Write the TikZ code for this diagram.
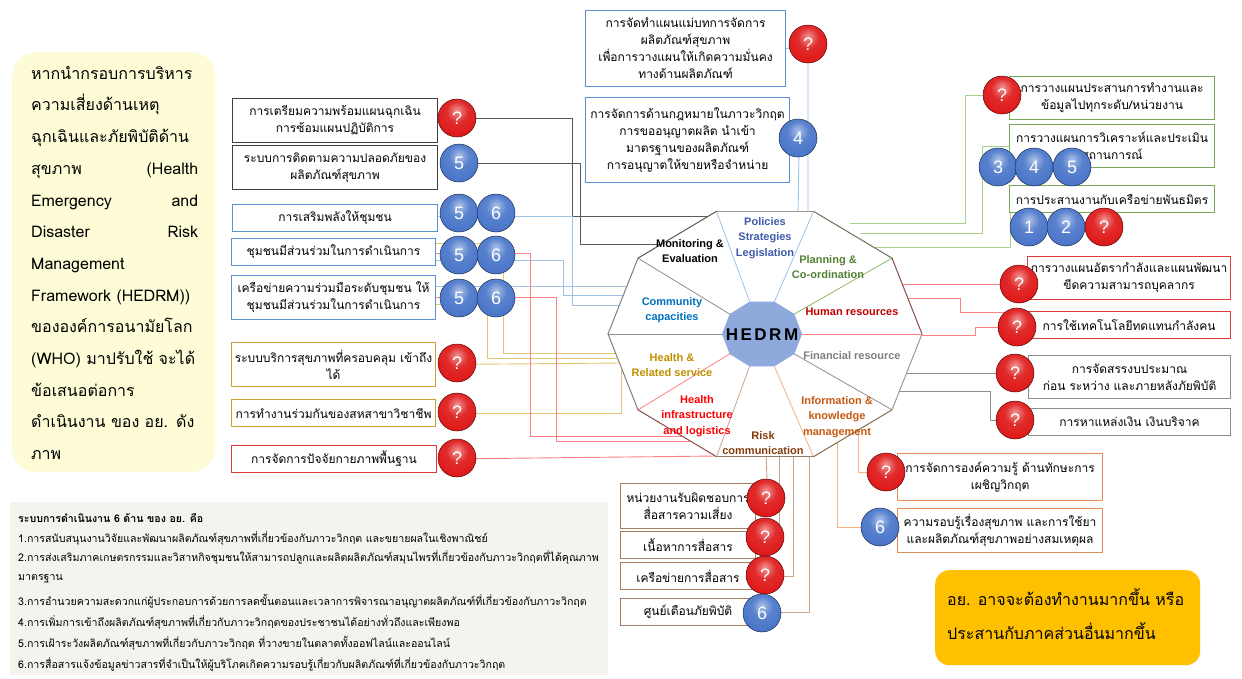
\documentclass[tikz,border=0pt]{standalone}
\usepackage{fontspec}
\setmainfont{Loma}[Script=Thai]
\newfontfamily\arialf{Liberation Sans}
\usetikzlibrary{calc}
\definecolor{cblue}{HTML}{5B8FD0}
\definecolor{cblk}{HTML}{3F3F3F}
\definecolor{cgold}{HTML}{C9A233}
\definecolor{cred}{HTML}{E03A3A}
\definecolor{cgreen}{HTML}{76A855}
\definecolor{cgray}{HTML}{8C8C8C}
\definecolor{corange}{HTML}{E08A56}
\definecolor{cbrown}{HTML}{A87D5E}
\definecolor{lblue}{HTML}{9DC3E6}
\definecolor{lgold}{HTML}{E3C66F}
\definecolor{lred}{HTML}{FF8080}
\definecolor{lgreen}{HTML}{A9D18E}
\definecolor{lgray}{HTML}{8F8F8F}
\definecolor{lorange}{HTML}{F4B183}
\definecolor{lbrown}{HTML}{C9A58C}
\definecolor{lblk}{HTML}{595959}
\definecolor{hedrm}{HTML}{8EA9DB}
\definecolor{ybg}{HTML}{FEFCD6}
\definecolor{gbg}{HTML}{F1F5EE}
\definecolor{obg}{HTML}{FFC000}
\definecolor{tpol}{HTML}{3F5BA9}
\definecolor{tmon}{HTML}{000000}
\definecolor{tpla}{HTML}{548235}
\definecolor{thum}{HTML}{C00000}
\definecolor{tfin}{HTML}{7F7F7F}
\definecolor{tinf}{HTML}{C55A11}
\definecolor{trisk}{HTML}{843C0C}
\definecolor{thi}{HTML}{FF0000}
\definecolor{thr}{HTML}{BF9000}
\definecolor{tcom}{HTML}{0070C0}
\definecolor{qmain}{RGB}{222,20,20}
\definecolor{nmain}{RGB}{70,115,200}
\definecolor{eA}{HTML}{8B4A4A}
\definecolor{eB}{HTML}{6F6F5A}
\definecolor{eC}{HTML}{9A9A9A}
\definecolor{eD}{HTML}{595959}
\definecolor{eE}{HTML}{7F7F7F}
\definecolor{eF}{HTML}{8E7C6E}
\definecolor{eG}{HTML}{8B6A4A}
\definecolor{sG}{HTML}{8FBC6F}
\pgfdeclareradialshading{qshade}{\pgfpoint{0bp}{10bp}}{color(0bp)=(qmain!45!white); color(14bp)=(qmain!90!white); color(34bp)=(qmain); color(46bp)=(qmain!75!black); color(52bp)=(qmain!45!black); color(80bp)=(qmain!45!black)}
\pgfdeclareradialshading{nshade}{\pgfpoint{0bp}{10bp}}{color(0bp)=(nmain!45!white); color(14bp)=(nmain!90!white); color(34bp)=(nmain); color(46bp)=(nmain!75!black); color(52bp)=(nmain!45!black); color(80bp)=(nmain!45!black)}
\begin{document}
\begin{tikzpicture}[x=1pt,y=-1pt,
  bx/.style={draw, line width=1.1pt, fill=white, align=center, inner sep=1pt, anchor=north west, font=\fontsize{12}{17}\selectfont},
  badge/.style={circle, inner sep=0pt, minimum size=38pt, text=white, font=\arialf\fontsize{18}{18}\selectfont},
  qb/.style={badge, shading=qshade, draw=qmain!40!black, line width=0.5pt},
  nb/.style={badge, shading=nshade, draw=nmain!40!black, line width=0.5pt},
  ln/.style={line width=0.9pt},
  sec/.style={align=center, inner sep=0pt, font=\arialf\bfseries\fontsize{11}{15.5}\selectfont},
  listline/.style={anchor=west, inner sep=0pt, font=\fontsize{10.6}{12}\selectfont}
]
\useasboundingbox (0,0) rectangle (1242,678);
\fill[white] (0,0) rectangle (1242,678);

% ---------- panels ----------
\node[fill=ybg, rounded corners=24pt, minimum width=203pt, minimum height=420pt, anchor=north west, inner sep=0pt] (ybox) at (12,52) {};
\node[anchor=north west, text width=167pt, align=left, inner sep=0pt, font=\fontsize{16}{31.7}\selectfont] (ytext) at (31,66) {%
\mbox{หากนำกรอบการบริหาร}\\
\mbox{ความเสี่ยงด้านเหตุ}\\
\mbox{ฉุกเฉินและภัยพิบัติด้าน}\\
สุขภาพ \hfill (Health\\
Emergency \hfill and\\
Disaster \hfill Risk\\
\mbox{Management}\\
\mbox{Framework (HEDRM))}\\
\mbox{ขององค์การอนามัยโลก}\\
\mbox{(WHO) มาปรับใช้ จะได้}\\
\mbox{ข้อเสนอต่อการ}\\
\mbox{ดำเนินงาน ของ อย. ดัง}\\
\mbox{ภาพ}};

\node[fill=gbg, minimum width=598pt, minimum height=173pt, anchor=north west, inner sep=0pt] (gpanel) at (10,502) {};
\node[listline, font=\bfseries\fontsize{10.6}{12}\selectfont] (l0) at (18,518) {ระบบการดำเนินงาน 6 ด้าน ของ อย. คือ};
\node[listline] (l1) at (18,538) {1.การสนับสนุนงานวิจัยและพัฒนาผลิตภัณฑ์สุขภาพที่เกี่ยวข้องกับภาวะวิกฤต และขยายผลในเชิงพาณิชย์};
\node[listline] (l2) at (18,557) {2.การส่งเสริมภาคเกษตรกรรมและวิสาหกิจชุมชนให้สามารถปลูกและผลิตผลิตภัณฑ์สมุนไพรที่เกี่ยวข้องกับภาวะวิกฤตที่ได้คุณภาพ};
\node[listline] (l2b) at (18,579) {มาตรฐาน};
\node[listline] (l3) at (18,601) {3.การอำนวยความสะดวกแก่ผู้ประกอบการด้วยการลดขั้นตอนและเวลาการพิจารณาอนุญาตผลิตภัณฑ์ที่เกี่ยวข้องกับภาวะวิกฤต};
\node[listline] (l4) at (18,622) {4.การเพิ่มการเข้าถึงผลิตภัณฑ์สุขภาพที่เกี่ยวกับภาวะวิกฤตของประชาชนได้อย่างทั่วถึงและเพียงพอ};
\node[listline] (l5) at (18,643) {5.การเฝ้าระวังผลิตภัณฑ์สุขภาพที่เกี่ยวกับภาวะวิกฤต ที่วางขายในตลาดทั้งออฟไลน์และออนไลน์};
\node[listline] (l6) at (18,664) {6.การสื่อสารแจ้งข้อมูลข่าวสารที่จำเป็นให้ผู้บริโภคเกิดความรอบรู้เกี่ยวกับผลิตภัณฑ์ที่เกี่ยวข้องกับภาวะวิกฤต};

\node[fill=obg, rounded corners=14pt, minimum width=265pt, minimum height=95pt, anchor=north west, inner sep=0pt] (obox) at (935,570) {};
\node[anchor=north west, align=left, inner sep=0pt, font=\fontsize{16}{34}\selectfont] (otext) at (947,588) {อย. อาจจะต้องทำงานมากขึ้น หรือ\\ประสานกับภาคส่วนอื่นมากขึ้น};

% ---------- decagon coordinates ----------
\foreach \k in {0,...,9}{
  \coordinate (o\k) at ({765+157*cos(36*\k)},{334-129*sin(36*\k)});
  \coordinate (i\k) at ({762+40*cos(36*\k)},{334-34*sin(36*\k)});
}
% connector ends (just inside the decagon rim)
\coordinate (me1) at (735,216);
\coordinate (me2) at (680,244);
\coordinate (cc1) at (640,305);
\coordinate (cc2) at (640,295);
\coordinate (cc3) at (645,286);
\coordinate (hr1) at (630,353);
\coordinate (hr2) at (630,358);
\coordinate (hr3) at (621,363);
\coordinate (hi1) at (690,436);
\coordinate (hi2) at (700,441);
\coordinate (hi3) at (716,456);
\coordinate (pl1) at (808,222);
\coordinate (pl2) at (798,222);
\coordinate (pc1) at (850,223);
\coordinate (pc2) at (860,233);
\coordinate (pc3) at (865,247);
\coordinate (phr1) at (895,284);
\coordinate (phr2) at (900,298);
\coordinate (phr3) at (915,335);
\coordinate (fin1) at (898,373);
\coordinate (fin2) at (890,391);
\coordinate (ik1) at (858,425);
\coordinate (ik2) at (837,438);
\coordinate (rc1) at (766,450);
\coordinate (rc2) at (779,450);
\coordinate (rc3) at (793,450);
\coordinate (rc4) at (809,450);

% ---------- boxes ----------
\node[bx, draw=cblk, minimum width=205pt, minimum height=44pt] (b1) at (232,98) {การเตรียมความพร้อมแผนฉุกเฉิน\\การซ้อมแผนปฏิบัติการ};
\node[bx, draw=cblk, minimum width=205pt, minimum height=44pt] (b2) at (232,145) {ระบบการติดตามความปลอดภัยของ\\ผลิตภัณฑ์สุขภาพ};
\node[bx, draw=cblue, minimum width=205pt, minimum height=27pt] (b3) at (232,204) {การเสริมพลังให้ชุมชน};
\node[bx, draw=cblue, minimum width=204pt, minimum height=27pt] (b4) at (231,238) {ชุมชนมีส่วนร่วมในการดำเนินการ};
\node[bx, draw=cblue, minimum width=204pt, minimum height=44pt] (b5) at (231,275) {เครือข่ายความร่วมมือระดับชุมชน ให้\\ชุมชนมีส่วนร่วมในการดำเนินการ};
\node[bx, draw=cgold, minimum width=204pt, minimum height=44pt] (b6) at (231,342) {ระบบบริการสุขภาพที่ครอบคลุม เข้าถึง\\ได้};
\node[bx, draw=cgold, minimum width=204pt, minimum height=27pt] (b7) at (231,399) {การทำงานร่วมกันของสหสาขาวิชาชีพ};
\node[bx, draw=cred, minimum width=205pt, minimum height=27pt] (b8) at (231,445) {การจัดการปัจจัยกายภาพพื้นฐาน};
\node[bx, draw=cblue, minimum width=200pt, minimum height=76pt] (b9) at (585,10) {การจัดทำแผนแม่บทการจัดการ\\ผลิตภัณฑ์สุขภาพ\\เพื่อการวางแผนให้เกิดความมั่นคง\\ทางด้านผลิตภัณฑ์};
\node[bx, draw=cblue, minimum width=204pt, minimum height=85pt] (b10) at (585,97) {การจัดการด้านกฎหมายในภาวะวิกฤต\\การขออนุญาตผลิต นำเข้า\\มาตรฐานของผลิตภัณฑ์\\การอนุญาตให้ขายหรือจำหน่าย};
\node[bx, draw=cgreen, minimum width=205pt, minimum height=43pt] (b11) at (1009,76) {การวางแผนประสานการทำงานและ\\ข้อมูลไปทุกระดับ/หน่วยงาน};
\node[bx, draw=cgreen, minimum width=205pt, minimum height=43pt] (b12) at (1009,124) {การวางแผนการวิเคราะห์และประเมิน\\สถานการณ์};
\node[bx, draw=cgreen, minimum width=205pt, minimum height=27pt] (b13) at (1009,185) {การประสานงานกับเครือข่ายพันธมิตร};
\node[bx, draw=cred, minimum width=203pt, minimum height=43pt] (b14) at (1027,256) {การวางแผนอัตรากำลังและแผนพัฒนา\\ขีดความสามารถบุคลากร};
\node[bx, draw=cred, minimum width=203pt, minimum height=27pt] (b15) at (1027,311) {การใช้เทคโนโลยีทดแทนกำลังคน};
\node[bx, draw=cgray, minimum width=202pt, minimum height=43pt] (b16) at (1028,355) {การจัดสรรงบประมาณ\\ก่อน ระหว่าง และภายหลังภัยพิบัติ};
\node[bx, draw=cgray, minimum width=202pt, minimum height=27pt] (b17) at (1028,408) {การหาแหล่งเงิน เงินบริจาค};
\node[bx, draw=corange, minimum width=205pt, minimum height=47pt] (b18) at (897,453) {การจัดการองค์ความรู้ ด้านทักษะการ\\เผชิญวิกฤต};
\node[bx, draw=corange, minimum width=205pt, minimum height=44pt] (b19) at (897,508) {ความรอบรู้เรื่องสุขภาพ และการใช้ยา\\และผลิตภัณฑ์สุขภาพอย่างสมเหตุผล};
\node[bx, draw=cbrown, minimum width=135pt, minimum height=45pt] (b20) at (620,483) {หน่วยงานรับผิดชอบการ\\สื่อสารความเสี่ยง};
\node[bx, draw=cbrown, minimum width=135pt, minimum height=27pt] (b21) at (620,531) {เนื้อหาการสื่อสาร};
\node[bx, draw=cbrown, minimum width=135pt, minimum height=27pt] (b22) at (620,562) {เครือข่ายการสื่อสาร};
\node[bx, draw=cbrown, minimum width=135pt, minimum height=27pt] (b23) at (620,598) {ศูนย์เตือนภัยพิบัติ};

% badge centres used as connector starts
\path (457,118) coordinate (q1c) (459,163) coordinate (n2c);

% ---------- connectors ----------
% Monitoring & Evaluation (gray)
\draw[ln, lblk] (q1c) -| (572,216) -- (me1);
\draw[ln, lblk] (n2c) -| (580,244) -- (me2);
% Community capacities (blue)
\draw[ln, lblue] ([yshift=-12pt]b3.north east) -| (572,305) -- (cc1);
\draw[ln, lblue] ([yshift=-22pt]b4.north east) -| (563,295) -- (cc2);
\draw[ln, lblue] ([yshift=-11pt]b5.north east) -- (cc3);
% Health & related service (gold)
\draw[ln, lgold] ([yshift=-5pt]b4.north east) -| (503,353) -- (hr1);
\draw[ln, lgold] ([yshift=-29pt]b5.north east) -| (487,358) -- (hr2);
\draw[ln, lgold] ([xshift=2pt]b6.east) -- (hr3);
\draw[ln, lgold] ([xshift=2pt]b7.east) -| (hr3);
% Health infrastructure (red)
\draw[ln, lred] ([yshift=-15pt]b4.north east) -| (530,436) -- (hi1);
\draw[ln, lred] ([yshift=-22pt]b5.north east) -| (556,441) -- (hi2);
\draw[ln, lred] ([xshift=2pt]b8.east) -- (hi3);
% Policies (blue, top)
\draw[ln, lblue] (b9.east) -- (808,44) -- (pl1);
\draw[ln, lblue] ([xshift=9pt,yshift=-41pt]b10.north east) -- (pl2);
% Planning & coordination (green)
\draw[ln, lgreen] ([xshift=-7pt,yshift=-19pt]b11.north west) -| (965,223) -- (pc1);
\draw[ln, lgreen] (b12.west) -| (982,233) -- (pc2);
\draw[ln, lgreen] ([xshift=1pt]b13.south west) |- (pc3);
% Human resources (red)
\draw[ln, lred] ([xshift=-8pt,yshift=-28pt]b14.north west) -- (phr1);
\draw[ln, lred] ([yshift=-1pt]b15.north west) -| (960,298) -- (phr2);
\draw[ln, lred] ([xshift=-10pt,yshift=-16pt]b15.north west) -| (975,335) -- (phr3);
% Financial resource (gray)
\draw[ln, lgray] ([xshift=-13pt,yshift=-18pt]b16.north west) -- (fin1);
\draw[ln, lgray] ([xshift=-13pt,yshift=-12pt]b17.north west) -| (990,391) -- (fin2);
% Information & knowledge (orange)
\draw[ln, lorange] (ik1) |- ([yshift=-19pt]b18.north west);
\draw[ln, lorange] (ik2) |- ([yshift=-19pt]b19.north west);
% Risk communication (brown)
\draw[ln, lbrown] (rc1) -- ([xshift=11pt]b20.north east);
\draw[ln, lbrown] (rc2) |- ([xshift=10pt]b21.east);
\draw[ln, lbrown] (rc3) |- ([xshift=10pt]b22.east);
\draw[ln, lbrown] (rc4) |- ([xshift=7pt]b23.east);

% ---------- decagon ----------
\fill[white] (o0) -- (o1) -- (o2) -- (o3) -- (o4) -- (o5) -- (o6) -- (o7) -- (o8) -- (o9) -- cycle;
\foreach \k/\c in {0/lred,1/sG,2/lblue,3/lblue,4/lgray,5/lgray,6/lred,7/lbrown,8/lorange,9/lgray}{
  \draw[line width=0.8pt, \c] (i\k) -- (o\k);
}
\foreach \k/\c in {0/eA,1/eB,2/eC,3/eD,4/eE,5/eE,6/eA,7/eF,8/eG,9/eC}{
  \pgfmathtruncatemacro\kn{mod(\k+1,10)}
  \draw[line width=1pt, \c, line cap=round] (o\k) -- (o\kn);
}
\fill[hedrm] (i0) -- (i1) -- (i2) -- (i3) -- (i4) -- (i5) -- (i6) -- (i7) -- (i8) -- (i9) -- cycle;
\node[inner sep=0pt, font=\arialf\bfseries\fontsize{17}{17}\selectfont] (hedrm) at (762,335) {H\hspace{2.5pt}E\hspace{2.5pt}D\hspace{2.5pt}R\hspace{2.5pt}M};

% sector labels
\node[sec, text=tpol] (spol) at (765,238) {Policies\\Strategies\\Legislation};
\node[sec, text=tmon] (smon) at (690,251) {Monitoring \&\\Evaluation};
\node[sec, text=tpla] (spla) at (828,267) {Planning \&\\Co-ordination};
\node[sec, text=thum] (shum) at (852,312) {Human resources};
\node[sec, text=tfin] (sfin) at (852,356) {Financial resource};
\node[sec, text=tinf] (sinf) at (837,417) {Information \&\\knowledge\\management};
\node[sec, text=trisk] (srisk) at (763,443) {Risk\\communication};
\node[sec, text=thi] (shi) at (697,416) {Health\\infrastructure\\and logistics};
\node[sec, text=thr] (shr) at (672,365) {Health \&\\Related service};
\node[sec, text=tcom] (scom) at (672,310) {Community\\capacities};

% ---------- badges ----------
\node[qb] (q1) at (q1c) {?};
\node[nb] (n2) at (n2c) {5};
\node[nb] (n3a) at (459,213) {5};
\node[nb] (n3b) at (496,213) {6};
\node[nb] (n4a) at (459,255) {5};
\node[nb] (n4b) at (496,255) {6};
\node[nb] (n5a) at (459,298) {5};
\node[nb] (n5b) at (496,298) {6};
\node[qb] (q6) at (457,363) {?};
\node[qb] (q7) at (457,412) {?};
\node[qb] (q8) at (457,458) {?};
\node[qb] (q9) at (808,44) {?};
\node[nb] (n10) at (798,138) {4};
\node[qb] (q11) at (1002,95) {?};
\node[nb] (n12a) at (998,167) {3};
\node[nb] (n12b) at (1034,167) {4};
\node[nb] (n12c) at (1072,167) {5};
\node[nb] (n13a) at (1029,227) {1};
\node[nb] (n13b) at (1066,227) {2};
\node[qb] (q13) at (1104,227) {?};
\node[qb] (q14) at (1019,284) {?};
\node[qb] (q15) at (1017,327) {?};
\node[qb] (q16) at (1015,373) {?};
\node[qb] (q17) at (1015,420) {?};
\node[qb] (q18) at (886,472) {?};
\node[nb] (n19) at (880,527) {6};
\node[qb] (q20) at (766,498) {?};
\node[qb] (q21) at (765,537) {?};
\node[qb] (q22) at (765,575) {?};
\node[nb] (n23) at (762,613) {6};
\end{tikzpicture}
\end{document}
